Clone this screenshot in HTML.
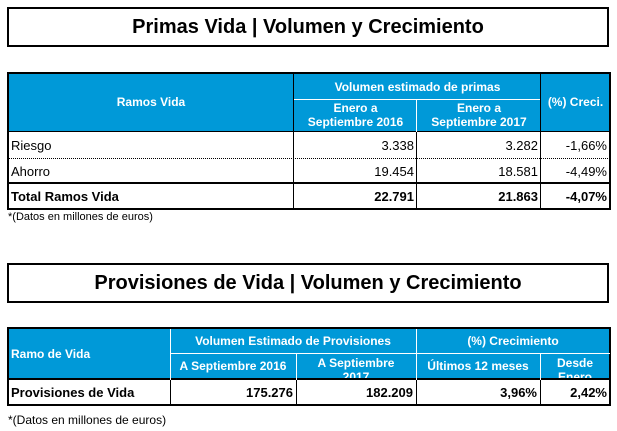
<!DOCTYPE html>
<html><head><meta charset="utf-8"><style>
body{margin:0;width:617px;height:431px;background:#fff;position:relative;font-family:"Liberation Sans",Arial,sans-serif;overflow:hidden}
.t{position:absolute;left:7px;width:602px;border:2px solid #000;text-align:center;font-weight:bold;font-size:20px;box-sizing:border-box}
.a{position:absolute;box-sizing:border-box;font-size:12px;white-space:nowrap;overflow:hidden;display:flex;align-items:center}
.h{background:#0099d8;color:#fff;font-weight:bold;justify-content:center;text-align:center;line-height:14px}
.r{justify-content:flex-end;padding-right:3px;font-size:13px}
.l{padding-left:3px;font-size:13px}
.b{font-weight:bold}
.ln{position:absolute;background:#000}
.foot{position:absolute;left:8px;font-size:11px}
</style></head><body>
<div class="t" style="top:7px;height:40px;line-height:36px">Primas Vida | Volumen y Crecimiento</div>
<div class="t" style="top:263px;height:40px;line-height:36px">Provisiones de Vida | Volumen y Crecimiento</div>

<div class="a h" style="left:8px;top:73px;width:286px;height:58px">Ramos Vida</div>
<div class="a h" style="left:294px;top:73px;width:247px;height:27px">Volumen estimado de primas</div>
<div class="a h" style="left:294px;top:100px;width:123px;height:31px;align-items:flex-start;padding-top:1px">Enero a<br>Septiembre 2016</div>
<div class="a h" style="left:417px;top:100px;width:124px;height:31px;align-items:flex-start;padding-top:1px">Enero a<br>Septiembre 2017</div>
<div class="a h" style="left:541px;top:73px;width:69px;height:58px">(%) Creci.</div>
<div class="a l" style="left:8px;top:132px;width:286px;height:26px">Riesgo</div>
<div class="a r" style="left:294px;top:132px;width:123px;height:26px">3.338</div>
<div class="a r" style="left:417px;top:132px;width:124px;height:26px">3.282</div>
<div class="a r" style="left:541px;top:132px;width:69px;height:26px">-1,66%</div>
<div class="a l" style="left:8px;top:159px;width:286px;height:24px">Ahorro</div>
<div class="a r" style="left:294px;top:159px;width:123px;height:24px">19.454</div>
<div class="a r" style="left:417px;top:159px;width:124px;height:24px">18.581</div>
<div class="a r" style="left:541px;top:159px;width:69px;height:24px">-4,49%</div>
<div class="a l b" style="left:8px;top:184px;width:286px;height:25px">Total Ramos Vida</div>
<div class="a r b" style="left:294px;top:184px;width:123px;height:25px">22.791</div>
<div class="a r b" style="left:417px;top:184px;width:124px;height:25px">21.863</div>
<div class="a r b" style="left:541px;top:184px;width:69px;height:25px">-4,07%</div>
<div class="ln" style="left:7px;top:72px;width:604px;height:2px"></div>
<div class="ln" style="left:7px;top:208px;width:604px;height:2px"></div>
<div class="ln" style="left:7px;top:72px;width:2px;height:138px"></div>
<div class="ln" style="left:609px;top:72px;width:2px;height:138px"></div>
<div class="ln" style="left:7px;top:131px;width:604px;height:1px"></div>
<div class="ln" style="left:7px;top:182px;width:604px;height:2px"></div>
<div style="position:absolute;left:8px;top:158px;width:602px;border-top:1px dotted #000"></div>
<div class="ln" style="left:293px;top:72px;width:1px;height:138px"></div>
<div class="ln" style="left:416px;top:100px;width:1px;height:110px;background:#fff"></div>
<div class="ln" style="left:416px;top:132px;width:1px;height:78px"></div>
<div class="ln" style="left:540px;top:72px;width:1px;height:138px"></div>
<div class="ln" style="left:294px;top:99px;width:246px;height:1px;background:#fff"></div>
<div class="foot" style="top:211px">*(Datos en millones de euros)</div>

<div class="a h" style="left:8px;top:329px;width:162px;height:49px;justify-content:flex-start;padding-left:3px">Ramo de Vida</div>
<div class="a h" style="left:170px;top:329px;width:246px;height:24px">Volumen Estimado de Provisiones</div>
<div class="a h" style="left:416px;top:329px;width:194px;height:24px">(%) Crecimiento</div>
<div class="a h" style="left:170px;top:354px;width:126px;height:24px">A Septiembre 2016</div>
<div class="a h" style="left:296px;top:354px;width:120px;height:24px;align-items:flex-start;padding-top:2px">A Septiembre<br>2017</div>
<div class="a h" style="left:416px;top:354px;width:124px;height:24px">Últimos 12 meses</div>
<div class="a h" style="left:540px;top:354px;width:70px;height:24px;align-items:flex-start;padding-top:2px">Desde<br>Enero</div>
<div class="a l b" style="left:8px;top:380px;width:162px;height:25px">Provisiones de Vida</div>
<div class="a r b" style="left:170px;top:380px;width:126px;height:25px">175.276</div>
<div class="a r b" style="left:296px;top:380px;width:120px;height:25px">182.209</div>
<div class="a r b" style="left:416px;top:380px;width:124px;height:25px">3,96%</div>
<div class="a r b" style="left:540px;top:380px;width:70px;height:25px">2,42%</div>
<div class="ln" style="left:7px;top:327px;width:604px;height:2px"></div>
<div class="ln" style="left:7px;top:404px;width:604px;height:2px"></div>
<div class="ln" style="left:7px;top:327px;width:2px;height:79px"></div>
<div class="ln" style="left:609px;top:327px;width:2px;height:79px"></div>
<div class="ln" style="left:7px;top:378px;width:604px;height:2px"></div>
<div class="ln" style="left:170px;top:329px;width:1px;height:76px;background:#fff"></div>
<div class="ln" style="left:170px;top:380px;width:1px;height:25px"></div>
<div class="ln" style="left:296px;top:353px;width:1px;height:52px;background:#fff"></div>
<div class="ln" style="left:296px;top:380px;width:1px;height:25px"></div>
<div class="ln" style="left:416px;top:329px;width:1px;height:76px;background:#fff"></div>
<div class="ln" style="left:416px;top:380px;width:1px;height:25px"></div>
<div class="ln" style="left:540px;top:353px;width:1px;height:52px;background:#fff"></div>
<div class="ln" style="left:540px;top:380px;width:1px;height:25px"></div>
<div class="ln" style="left:171px;top:353px;width:439px;height:1px;background:#fff"></div>
<div class="foot" style="top:413px;font-size:12px">*(Datos en millones de euros)</div>
</body></html>
